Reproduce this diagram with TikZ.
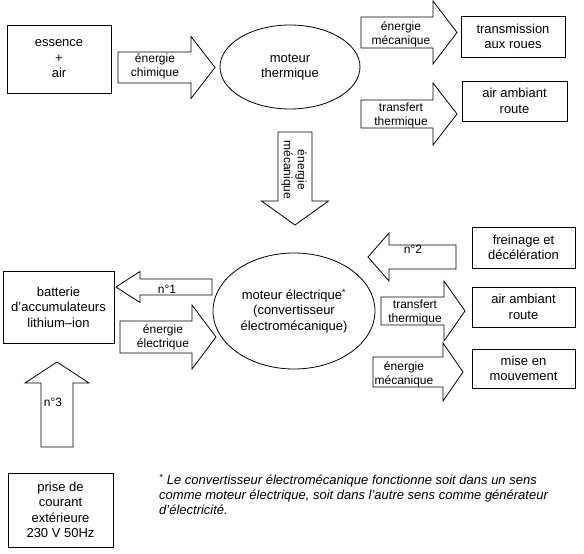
\documentclass[tikz,border=0pt]{standalone}
\usepackage{fontspec}
\setmainfont{Liberation Sans}
\usetikzlibrary{shapes.geometric}
\tikzset{
  energybox/.style={draw=black,line width=.8pt,align=center,inner sep=0pt,
    font=\fontsize{13}{15.5}\selectfont},
  motorellipse/.style={ellipse,draw=black,line width=.8pt,align=center,inner sep=0pt,
    font=\fontsize{13}{15.5}\selectfont},
  arrowshape/.style={draw=black,line width=.8pt,fill=white,line join=miter},
  arrowlabel/.style={align=center,inner sep=0pt,font=\fontsize{12}{14}\selectfont},
  footnotetext/.style={align=left,inner sep=0pt,font=\fontsize{13}{15}\selectfont\itshape}
}
% tail x, tail y, direction, length, shaft width, head width, head length
\newcommand{\energyarrow}[7]{%
  \draw[arrowshape,shift={(#1,#2)},rotate=#3]
    (0,-#5/2) -- (#4-#7,-#5/2) -- (#4-#7,-#6/2) -- (#4,0)
    -- (#4-#7,#6/2) -- (#4-#7,#5/2) -- (0,#5/2) -- cycle;}

\begin{document}
\begin{tikzpicture}[x=1pt,y=-1pt]
\useasboundingbox (0,0) rectangle (584,554);
% boxes
\node[energybox,minimum width=104pt,minimum height=68pt] (essence) at (59,59) {essence\\+\\air};
\node[energybox,minimum width=104pt,minimum height=41pt] (roues) at (513,36.5) {transmission\\aux roues};
\node[energybox,minimum width=105pt,minimum height=40pt] (airA) at (514.5,101) {air ambiant\\route};
\node[energybox,minimum width=103pt,minimum height=41pt] (freinage) at (523.5,247.5) {freinage et\\décélération};
\node[energybox,minimum width=103pt,minimum height=40pt] (airB) at (523.5,307) {air ambiant\\route};
\node[energybox,minimum width=103pt,minimum height=39pt] (mouvement) at (523.5,368.5) {mise en\\mouvement};
\node[energybox,minimum width=111pt,minimum height=72pt] (batterie) at (58.5,307) {batterie\\d'accumulateurs\\lithium--ion};
\node[energybox,minimum width=105pt,minimum height=74pt] (prise) at (60.5,510) {prise de\\courant\\extérieure\\230 V 50Hz};
% engines
\node[motorellipse,minimum width=140pt,minimum height=84pt] (thermique) at (290,67) {moteur\\thermique};
\node[motorellipse,minimum width=162pt,minimum height=116pt] (electrique) at (294,311)
  {moteur électrique\textsuperscript{*}\\(convertisseur\\électromécanique)};
% transfers
\energyarrow{118}{67.5}{0}{97}{31}{62}{24}
\energyarrow{361}{32.5}{0}{96}{31}{63}{24}
\energyarrow{361}{114}{0}{96}{28}{62}{24}
\energyarrow{295}{132}{-90}{93}{34}{67}{24}
\energyarrow{212}{287}{180}{96}{16}{31}{24}
\energyarrow{120}{337}{0}{96}{32}{64}{24}
\energyarrow{57}{447}{90}{85}{32}{64}{21}
\energyarrow{456}{257}{180}{88}{24}{48}{21}
\energyarrow{381}{311}{0}{84}{28}{60}{21}
\energyarrow{373}{372}{0}{90}{30}{58}{20}
\node[arrowlabel] (chimique) at (155,66) {énergie\\chimique};
\node[arrowlabel] (mecaA) at (401,34) {énergie\\mécanique};
\node[arrowlabel] (thermA) at (401,115) {transfert\\thermique};
\node[arrowlabel,rotate=-90] (mecaV) at (294,170) {énergie\\mécanique};
\node[arrowlabel] (un) at (167,289) {n°1};
\node[arrowlabel] (elec) at (163,337) {énergie\\électrique};
\node[arrowlabel] (trois) at (53,402) {n°3};
\node[arrowlabel] (deux) at (413,249) {n°2};
\node[arrowlabel] (thermB) at (415,312) {transfert\\thermique};
\node[arrowlabel] (mecaB) at (404,374) {énergie\\mécanique};
% note
\node[footnotetext,anchor=north west] (note) at (159,474)
  {\textsuperscript{*} Le convertisseur électromécanique fonctionne soit dans un sens\\
   comme moteur électrique, soit dans l’autre sens comme générateur\\
   d’électricité.};
\end{tikzpicture}
\end{document}
